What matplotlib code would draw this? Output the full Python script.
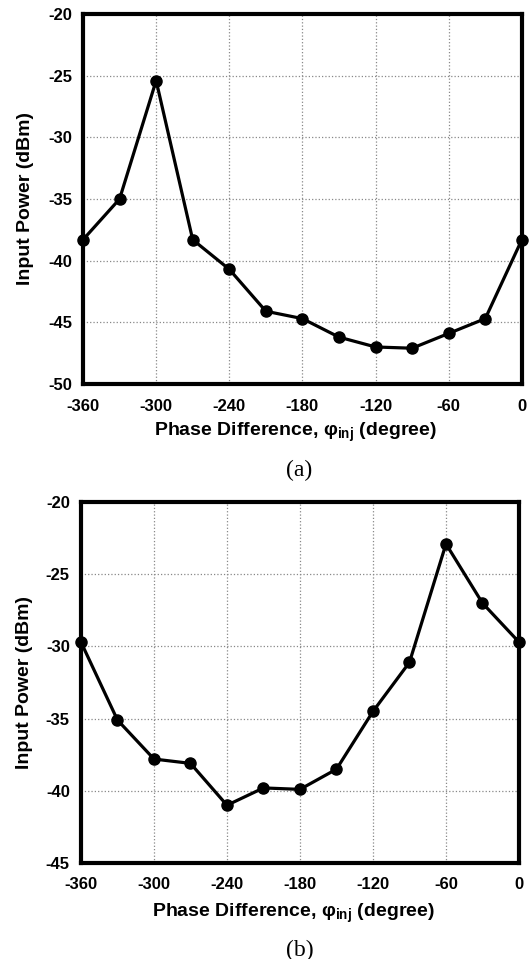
import matplotlib.pyplot as plt
import numpy as np

plt.rcParams['font.family'] = ['Liberation Sans', 'DejaVu Sans']
plt.rcParams['mathtext.fontset'] = 'custom'
plt.rcParams['mathtext.rm'] = 'Liberation Sans:bold'
plt.rcParams['mathtext.it'] = 'Liberation Sans:bold'
plt.rcParams['mathtext.bf'] = 'Liberation Sans:bold'

# phase difference (degree)
phase = [-360, -330, -300, -270, -240, -210, -180, -150, -120, -90, -60, -30, 0]

# input power (dBm), panel (a) and (b)
power_a = [-38.3, -35.0, -25.4, -38.3, -40.7, -44.1, -44.7, -46.2, -47.0, -47.1, -45.9, -44.7, -38.3]
power_b = [-29.7, -35.1, -37.8, -38.1, -41.0, -39.8, -39.9, -38.5, -34.5, -31.1, -22.9, -27.0, -29.7]

xticks = [-360, -300, -240, -180, -120, -60, 0]
yticks_a = [-50, -45, -40, -35, -30, -25, -20]
yticks_b = [-45, -40, -35, -30, -25, -20]

fig = plt.figure(figsize=(5.30, 9.59), dpi=100)
ax_a = fig.add_axes([0.1566, 0.5996, 0.828, 0.3858])
ax_b = fig.add_axes([0.1528, 0.1001, 0.8264, 0.3764])


def style(ax, y, yticks, caption, cap_y, xl_y, yl_x, xpad):
    ax.plot(phase, y, color='black', lw=2.3, marker='o', ms=8, clip_on=False, zorder=3)
    ax.set_xlim(-360, 0)
    ax.set_ylim(yticks[0], yticks[-1])
    ax.set_xticks(xticks)
    ax.set_yticks(yticks)
    ax.set_xticklabels([str(t) for t in xticks], fontweight='bold', fontsize=12)
    ax.set_yticklabels([str(t) for t in yticks], fontweight='bold', fontsize=12)
    ax.tick_params(axis='x', length=0, pad=xpad)
    ax.tick_params(axis='y', length=0, pad=8)
    ax.grid(True, color='#888888', linestyle=':', linewidth=0.9)
    for s in ax.spines.values():
        s.set_linewidth(3.0)
        s.set_zorder(4)
    ax.set_xlabel(r'Phase Difference, $φ_{inj}$ (degree)', fontweight='bold', fontsize=14)
    ax.set_ylabel('Input Power (dBm)', fontweight='bold', fontsize=14)
    ax.xaxis.set_label_coords(0.485, xl_y)
    ax.yaxis.set_label_coords(yl_x, 0.5)
    ax.xaxis.label.set_va('center')
    ax.yaxis.label.set_va('center')
    fig.text(0.565, cap_y, caption, ha='center', va='center', family='Liberation Serif', fontsize=17)


style(ax_a, power_a, yticks_a, '(a)', 1 - 470 / 959, -0.132, -0.132, 11)
style(ax_b, power_b, yticks_b, '(b)', 1 - 950 / 959, -0.1385, -0.128, 10)

fig.savefig('out.png', dpi=100)
